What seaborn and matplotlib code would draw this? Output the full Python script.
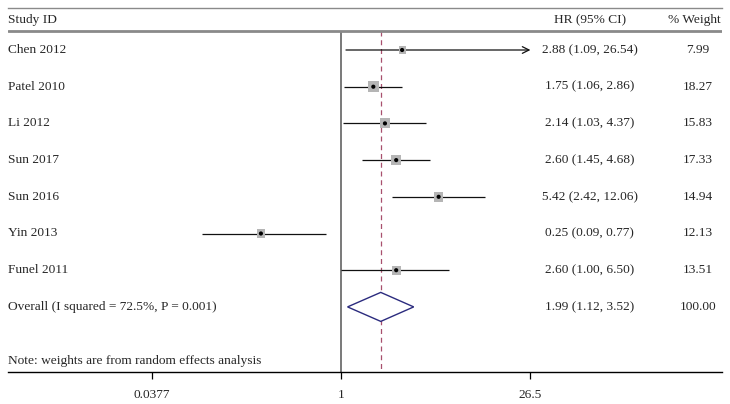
import numpy as np
import pandas as pd
import matplotlib
matplotlib.use("Agg")
import matplotlib.pyplot as plt
import seaborn as sns

studies = ["Chen 2012", "Patel 2010", "Li 2012", "Sun 2017", "Sun 2016", "Yin 2013", "Funel 2011"]
hr = [2.88, 1.75, 2.14, 2.60, 5.42, 0.25, 2.60]
ci_low = [1.09, 1.06, 1.03, 1.45, 2.42, 0.09, 1.00]
ci_high = [26.54, 2.86, 4.37, 4.68, 12.06, 0.77, 6.50]
weights = [7.99, 18.27, 15.83, 17.33, 14.94, 12.13, 13.51]

overall_label = "Overall (I squared = 72.5%, P = 0.001)"
overall_hr = 1.99
overall_low = 1.12
overall_high = 3.52
overall_weight = 100.00

x_ticks = [0.0377, 1, 26.5]
x_ticklabels = ["0.0377", "1", "26.5"]

sns.set_style("white")
plt.rcParams["font.family"] = ["Liberation Serif", "DejaVu Serif"]
FS = 9.6

df = pd.DataFrame({"study": studies, "hr": hr, "low": ci_low, "high": ci_high,
                   "weight": weights, "row": np.arange(len(studies))})

W, H = 730, 404
fig = plt.figure(figsize=(W / 100, H / 100), dpi=100)
ax = fig.add_axes([8 / W, (H - 372) / H, 714 / W, 364 / H])
ax.set_xscale("log")
px = 57.77  # pixels per ln unit
ax.set_xlim(np.exp((8 - 341) / px), np.exp((722 - 341) / px))
row_px = 36.7
ax.set_ylim((372 - 50) / row_px, (8 - 50) / row_px)

# confidence intervals
clip_hi = 26.5
for _, r in df.iterrows():
    if r["high"] > clip_hi * 0.999:
        ax.annotate("", xy=(r["high"], r["row"]), xytext=(r["low"], r["row"]),
                    arrowprops=dict(arrowstyle="->", color="#111111", lw=0.9,
                                    mutation_scale=12, shrinkA=0, shrinkB=0))
    else:
        ax.hlines(r["row"], r["low"], r["high"], color="#111111", lw=0.9)

# weight boxes (area proportional to weight)
sns.scatterplot(data=df, x="hr", y="row", size="weight",
                sizes=(3.2 * min(weights), 3.2 * max(weights)),
                marker="s", color="#b5b5b5", edgecolor="none", legend=False, ax=ax, zorder=3)
sns.scatterplot(data=df, x="hr", y="row", s=9, color="black", edgecolor="none",
                legend=False, ax=ax, zorder=4)

# reference lines
top_row = (31 - 50) / row_px
bottom_row = (372 - 50) / row_px
ax.vlines(1, top_row, bottom_row, color="#555555", lw=1.1, zorder=1)
ax.vlines(overall_hr, top_row, bottom_row, color="#a8506e", lw=0.9,
          linestyles=(0, (4, 3)), zorder=1)

# overall diamond
orow = len(studies)
dh = 14.5 / row_px
ax.fill([overall_low, overall_hr, overall_high, overall_hr, overall_low],
        [orow, orow - dh, orow, orow + dh, orow],
        facecolor="white", edgecolor="#2b2b7e", lw=1.0, zorder=2)

# header lines
ax.axhline(top_row, color="#8a8a8a", lw=2.0)
ax.spines["top"].set_color("#8a8a8a")
ax.spines["top"].set_linewidth(1.0)
for s in ["left", "right"]:
    ax.spines[s].set_visible(False)
ax.spines["bottom"].set_color("black")
ax.spines["bottom"].set_linewidth(1.0)

tr = ax.get_yaxis_transform()
hdr = (20 - 50) / row_px
ax.text(0, hdr, "Study ID", transform=tr, ha="left", va="center", fontsize=FS)
ax.text(0.815, hdr, "HR (95% CI)", transform=tr, ha="center", va="center", fontsize=FS)
ax.text(0.961, hdr, "% Weight", transform=tr, ha="center", va="center", fontsize=FS)

labels = studies + [overall_label]
hrs = hr + [overall_hr]
lows = ci_low + [overall_low]
highs = ci_high + [overall_high]
wts = weights + [overall_weight]
for i in range(len(labels)):
    ax.text(0, i, labels[i], transform=tr, ha="left", va="center", fontsize=FS)
    ax.text(0.815, i, f"{hrs[i]:.2f} ({lows[i]:.2f}, {highs[i]:.2f})", transform=tr,
            ha="center", va="center", fontsize=FS)
    ax.text(0.966, i, f"{wts[i]:.2f}", transform=tr, ha="center", va="center", fontsize=FS)

ax.text(0, (361 - 50) / row_px, "Note: weights are from random effects analysis",
        transform=tr, ha="left", va="center", fontsize=FS)

ax.set_xticks(x_ticks)
ax.set_xticklabels(x_ticklabels, fontsize=FS)
ax.minorticks_off()
ax.tick_params(axis="x", bottom=True, length=5, width=0.9, color="black", pad=7)
ax.set_yticks([])
ax.set_xlabel("")
ax.set_ylabel("")

fig.savefig("out.png", dpi=100)
